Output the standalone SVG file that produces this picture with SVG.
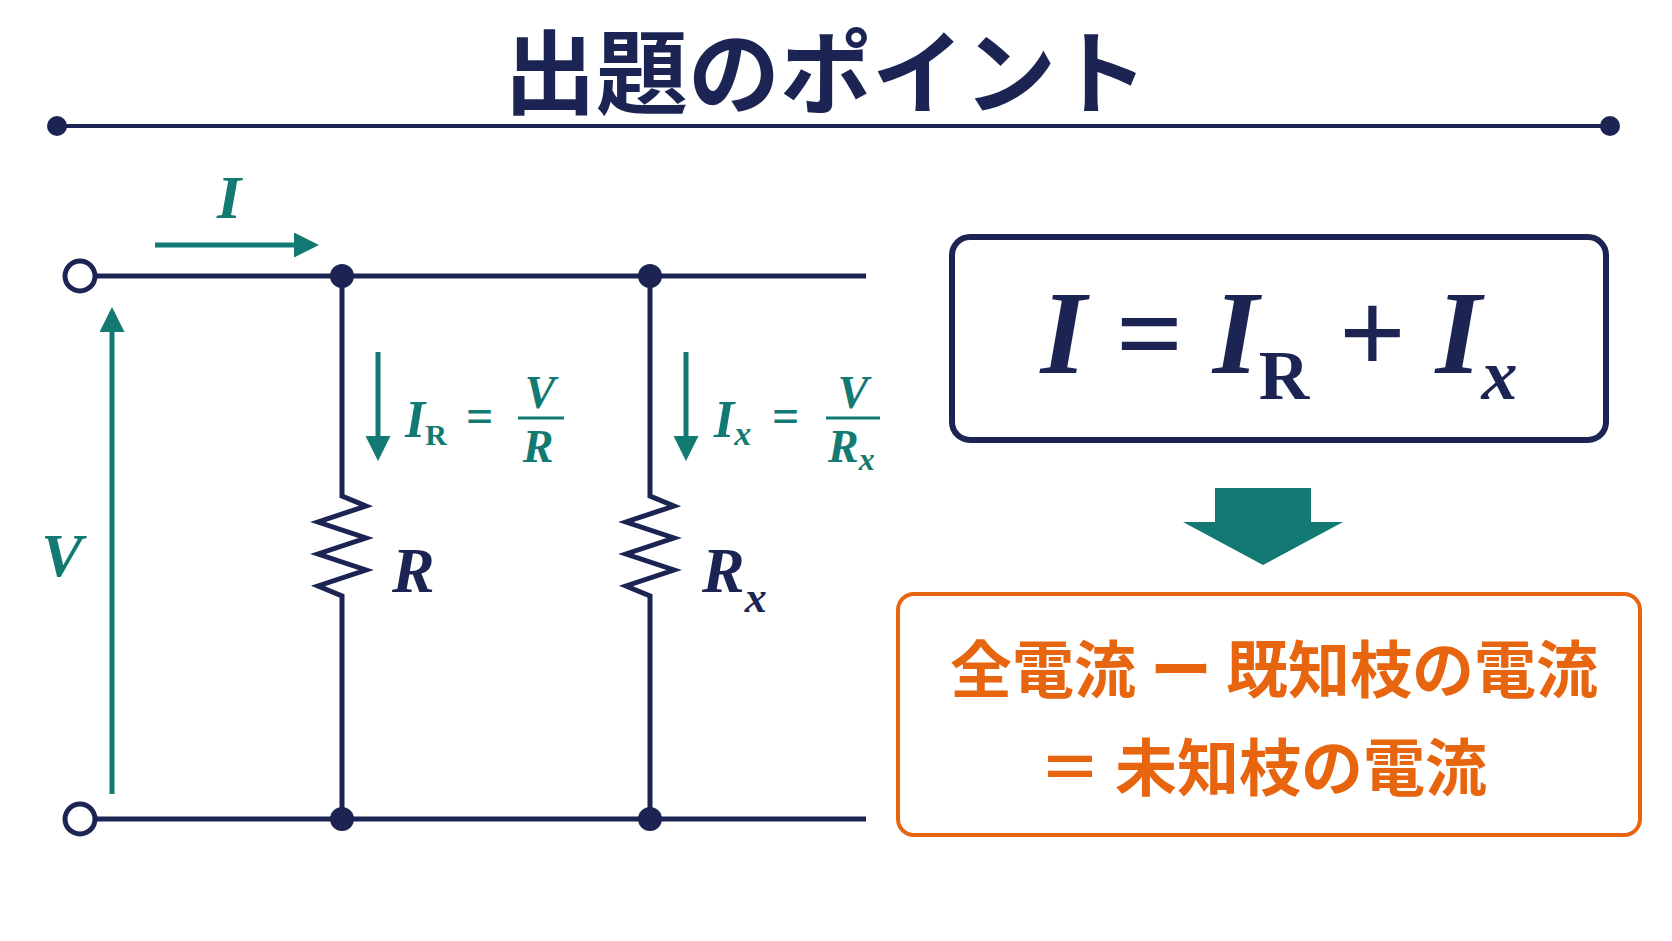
<svg xmlns="http://www.w3.org/2000/svg" width="1672" height="941" viewBox="0 0 1672 941">
<style>
.w{stroke:#1b2453;stroke-width:5;fill:none}
.t{fill:#127a72}
.a{stroke:#127a72;stroke-width:5;fill:none}
.m{font-family:"Liberation Serif",serif;font-style:italic;font-weight:bold}
.jp{font-family:"Noto Sans CJK JP",sans-serif;font-weight:bold}
</style>
<defs><marker id="ar" viewBox="0 0 10 10" refX="8" refY="5" markerWidth="5" markerHeight="5" orient="auto"><path d="M0,0L10,5L0,10Z" fill="#127a72"/></marker></defs>
<rect width="1672" height="941" fill="#fff"/>
<g id="title"><text x="826" y="107" text-anchor="middle" class="jp" font-size="92" fill="#1b2453">出題のポイント</text>
<line x1="57" y1="126" x2="1610" y2="126" stroke="#1b2453" stroke-width="4"/><circle cx="57" cy="126" r="10" fill="#1b2453"/><circle cx="1610" cy="126" r="10" fill="#1b2453"/></g>
<g id="connectors">
<line class="w" x1="94" y1="276" x2="866" y2="276"/>
<line class="w" x1="94" y1="819" x2="866" y2="819"/>
<path class="w" d="M342,276V496L366,506L318,522L366,538L318,554L366,570L318,586L342,596V634V819"/>
<path class="w" d="M650,276V496L674,506L626,522L674,538L626,554L674,570L626,586L650,596V634V819"/>
<line class="a" x1="155" y1="245" x2="314" y2="245" marker-end="url(#ar)"/>
<line class="a" x1="112" y1="794" x2="112" y2="312" marker-end="url(#ar)"/>
<line class="a" x1="378" y1="352" x2="378" y2="456" marker-end="url(#ar)"/>
<line class="a" x1="686" y1="352" x2="686" y2="456" marker-end="url(#ar)"/>
</g>
<g id="terminals"><circle cx="80" cy="276" r="15" fill="#fff" stroke="#1b2453" stroke-width="5"/><circle cx="80" cy="819" r="15" fill="#fff" stroke="#1b2453" stroke-width="5"/>
<circle cx="342" cy="276" r="12" fill="#1b2453"/><circle cx="650" cy="276" r="12" fill="#1b2453"/><circle cx="342" cy="819" r="12" fill="#1b2453"/><circle cx="650" cy="819" r="12" fill="#1b2453"/></g>
<g id="labels" class="m">
<text x="229" y="218" font-size="62" class="t" text-anchor="middle">I</text>
<text x="62" y="576" font-size="62" class="t" text-anchor="middle">V</text>
<text x="405" y="437" font-size="52" class="t">I<tspan font-size="30" font-style="normal" dy="8">R</tspan></text>
<text x="466" y="432" font-size="48" class="t" font-style="normal">=</text>
<text x="540" y="408" font-size="46" class="t" text-anchor="middle">V</text>
<line x1="518" y1="418" x2="564" y2="418" stroke="#127a72" stroke-width="3"/>
<text x="538" y="462" font-size="46" class="t" text-anchor="middle">R</text>
<text x="714" y="437" font-size="52" class="t">I<tspan font-size="34" dy="8">x</tspan></text>
<text x="772" y="432" font-size="48" class="t" font-style="normal">=</text>
<text x="853" y="408" font-size="46" class="t" text-anchor="middle">V</text>
<line x1="826" y1="418" x2="880" y2="418" stroke="#127a72" stroke-width="3"/>
<text x="828" y="462" font-size="46" class="t">R<tspan font-size="32" dy="8">x</tspan></text>
<text x="392" y="592" font-size="64" fill="#1b2453">R</text>
<text x="702" y="592" font-size="64" fill="#1b2453">R<tspan font-size="44" dy="20">x</tspan></text>
</g>
<g id="formula"><rect x="952" y="237" width="654" height="203" rx="18" fill="#fff" stroke="#1b2453" stroke-width="6"/>
<text x="1279" y="373" text-anchor="middle" class="m" font-size="118" fill="#1b2453">I <tspan font-style="normal">=</tspan> I<tspan font-size="70" font-style="normal" dy="26">R</tspan><tspan dy="-26" font-style="normal"> + </tspan>I<tspan font-size="72" dy="26">x</tspan></text></g>
<g id="arrow"><path d="M1215,488H1311V522H1343L1263,565L1183,522H1215Z" fill="#127a72"/></g>
<g id="result"><rect x="898" y="594" width="742" height="241" rx="16" fill="#fff" stroke="#e8650f" stroke-width="4"/>
<text x="1274" y="693" text-anchor="middle" class="jp" font-size="62" fill="#e8650f">全電流 ー 既知枝の電流</text>
<text x="1263" y="791" text-anchor="middle" class="jp" font-size="62" fill="#e8650f">＝ 未知枝の電流</text></g>
</svg>
